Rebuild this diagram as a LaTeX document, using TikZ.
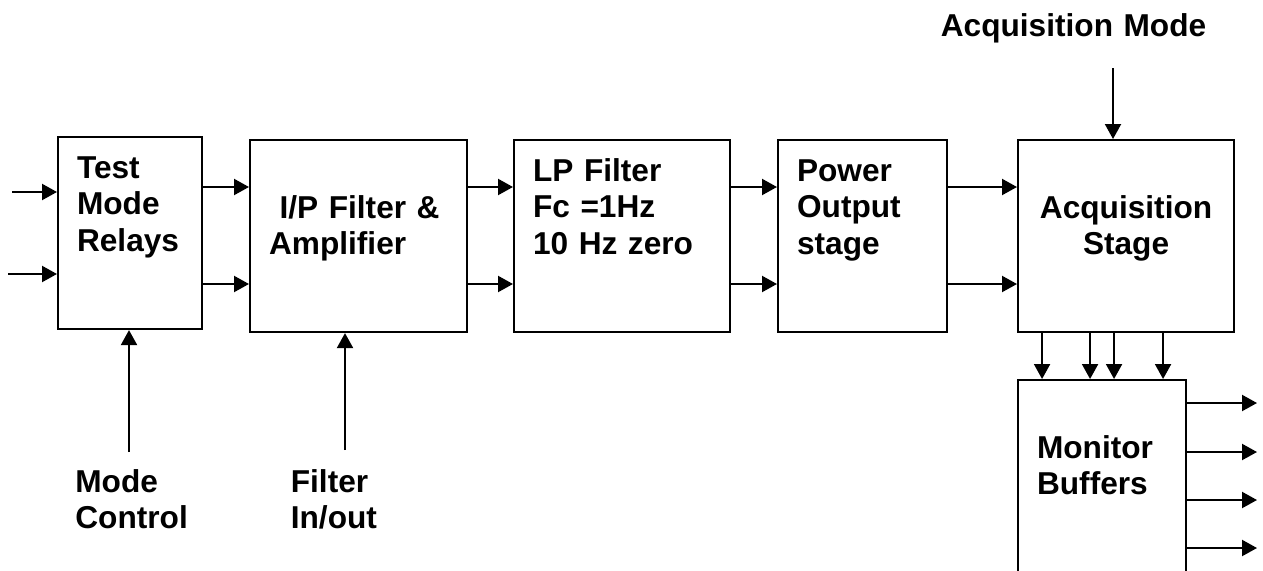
\documentclass[tikz,border=0pt]{standalone}
\usepackage{fontspec}
\setmainfont{Liberation Sans}
\usetikzlibrary{arrows.meta}
\newcommand{\blockfont}{\fontsize{18}{21}\selectfont\bfseries}

\begin{document}
\begin{tikzpicture}[
    >={Triangle[length=0.3cm,width=0.32cm]},
    block/.style={draw, line width=1.2pt, anchor=north west, inner xsep=0.38cm, inner ysep=0pt, align=left, font=\blockfont},
    hightext/.style={text height=0.82cm, text depth=3.02cm},
    lowtext/.style={text height=1.56cm, text depth=2.28cm},
    lbl/.style={font=\blockfont, inner sep=0pt, anchor=base west, text width=3cm, align=left},
    link/.style={->, line width=1.2pt}
]
\clip (0,0) rectangle (25.26,-11.4);

\node[block, hightext, text width=2.12cm] (test) at (1.14,-2.72) {Test\\Mode\\Relays};
\node[block, lowtext, text width=3.58cm] (ipfilt) at (4.98,-2.78) {\ I/P Filter \&\\Amplifier};
\node[block, hightext, text width=3.56cm] (lpfilt) at (10.26,-2.78) {LP Filter\\Fc =1Hz\\10 Hz zero};
\node[block, hightext, text width=2.62cm] (power) at (15.54,-2.78) {Power\\Output\\stage};
\node[block, lowtext, align=center, text width=3.56cm] (acq) at (20.34,-2.78) {Acquisition\\Stage};
\node[block, lowtext, text depth=2.44cm, text width=2.6cm] (monitor) at (20.34,-7.58) {Monitor\\Buffers};

\node[lbl, anchor=base, text width=5.6cm, align=center] (acqmode) at (21.47,-0.72) {Acquisition Mode};
\node[lbl] (modectl) at (1.50,-9.84) {Mode\\Control};
\node[lbl] (filtctl) at (5.81,-9.84) {Filter\\In/out};

% free ends and signal rows
\coordinate (rowa) at (0,-3.74);
\coordinate (rowb) at (0,-5.68);
\coordinate (inA) at (0.24,-3.84);
\coordinate (inB) at (0.16,-5.48);
\coordinate (acqmodein) at (22.26,-1.36);
\coordinate (modein) at (2.58,-9.04);
\coordinate (filtin) at (6.90,-9.0);
\coordinate (outA) at (25.14,-8.06);
\coordinate (outB) at (25.14,-9.04);
\coordinate (outC) at (25.14,-10.0);
\coordinate (outD) at (25.14,-10.96);

\draw[link] (inA) -- (inA -| test.west);
\draw[link] (inB) -- (inB -| test.west);
\draw[link] (test.east |- rowa) -- (ipfilt.west |- rowa);
\draw[link] (test.east |- rowb) -- (ipfilt.west |- rowb);
\draw[link] (ipfilt.east |- rowa) -- (lpfilt.west |- rowa);
\draw[link] (ipfilt.east |- rowb) -- (lpfilt.west |- rowb);
\draw[link] (lpfilt.east |- rowa) -- (power.west |- rowa);
\draw[link] (lpfilt.east |- rowb) -- (power.west |- rowb);
\draw[link] (power.east |- rowa) -- (acq.west |- rowa);
\draw[link] (power.east |- rowb) -- (acq.west |- rowb);

\draw[link] (acqmodein) -- (acqmodein |- acq.north);
\draw[link] (modein) -- (modein |- test.south);
\draw[link] (filtin) -- (filtin |- ipfilt.south);

\draw[link] ([xshift=-1.68cm]acq.south) -- ([xshift=-1.68cm]acq.south |- monitor.north);
\draw[link] ([xshift=-0.72cm]acq.south) -- ([xshift=-0.72cm]acq.south |- monitor.north);
\draw[link] ([xshift=-0.24cm]acq.south) -- ([xshift=-0.24cm]acq.south |- monitor.north);
\draw[link] ([xshift=0.74cm]acq.south) -- ([xshift=0.74cm]acq.south |- monitor.north);

\draw[link] (outA -| monitor.east) -- (outA);
\draw[link] (outB -| monitor.east) -- (outB);
\draw[link] (outC -| monitor.east) -- (outC);
\draw[link] (outD -| monitor.east) -- (outD);
\end{tikzpicture}
\end{document}
